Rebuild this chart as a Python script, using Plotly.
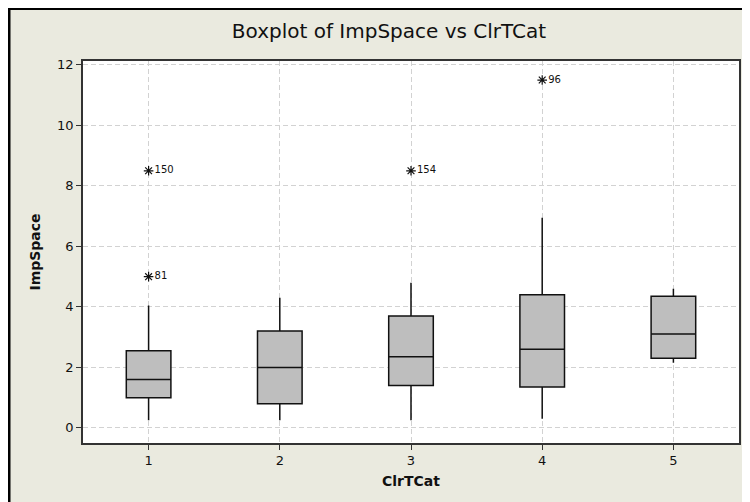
import plotly.graph_objects as go

# ---- data ----
categories = [1, 2, 3, 4, 5]
cat_labels = ["1", "2", "3", "4", "5"]
q1_vals = [1.0, 0.8, 1.4, 1.35, 2.3]
median_vals = [1.6, 2.0, 2.35, 2.6, 3.1]
q3_vals = [2.55, 3.2, 3.7, 4.4, 4.35]
low_whisker = [0.25, 0.25, 0.25, 0.3, 2.15]
high_whisker = [4.05, 4.3, 4.8, 6.95, 4.6]

outlier_x = [1, 1, 3, 4]
outlier_y = [8.5, 5.0, 8.5, 11.5]
outlier_labels = ["150", "81", "154", "96"]

y_ticks = [0, 2, 4, 6, 8, 10, 12]

# ---- layout geometry (page has an 8px body margin) ----
OFF = 8
W, H = 750 - OFF, 502 - OFF
ML, MR, MT, MB = 83 - OFF, 11, 61 - OFF, 59
PW, PH = W - ML - MR, H - MT - MB


def px(x):
    return (x - OFF - ML) / PW


def py(y):
    return (H - MB - (y - OFF)) / PH


fig = go.Figure()

fig.add_trace(go.Box(
    x=categories,
    q1=q1_vals,
    median=median_vals,
    q3=q3_vals,
    lowerfence=low_whisker,
    upperfence=high_whisker,
    width=0.34,
    whiskerwidth=0,
    fillcolor="#BEBEBE",
    line=dict(color="#111111", width=1.5),
    boxpoints=False,
    showlegend=False,
    hoverinfo="skip",
))

fig.add_trace(go.Scatter(
    x=outlier_x,
    y=outlier_y,
    mode="markers+text",
    text=outlier_labels,
    textposition="middle right",
    textfont=dict(family="DejaVu Sans", size=10, color="#111111"),
    marker=dict(symbol="asterisk-open", size=8, color="#111111",
                line=dict(color="#111111", width=1.2)),
    showlegend=False,
    hoverinfo="skip",
))

shapes = [
    # black frame lines (left and top)
    dict(type="rect", xref="paper", yref="paper", x0=px(8), x1=px(10.5),
         y0=py(520), y1=py(8), fillcolor="black", line=dict(width=0), layer="below"),
    dict(type="rect", xref="paper", yref="paper", x0=px(8), x1=px(760),
         y0=py(10), y1=py(8), fillcolor="black", line=dict(width=0), layer="below"),
]

fig.update_layout(
    width=W, height=H,
    autosize=False,
    margin=dict(l=ML, r=MR, t=MT, b=MB, autoexpand=False),
    paper_bgcolor="#EAEADF",
    plot_bgcolor="white",
    shapes=shapes,
    title=dict(text="Boxplot of ImpSpace vs ClrTCat",
               xref="paper", x=px(389), xanchor="center",
               yref="container", y=1 - (31 - OFF) / H, yanchor="middle",
               font=dict(family="DejaVu Sans", size=20, color="#111111")),
    font=dict(family="DejaVu Sans", color="#111111"),
    xaxis=dict(
        range=[0.5, 5.5],
        tickvals=categories,
        ticktext=cat_labels,
        ticks="outside", ticklen=5, tickcolor="#333333",
        tickfont=dict(size=13),
        showline=True, linecolor="#333333", linewidth=1.5, mirror=True,
        showgrid=True, gridcolor="#D2D2D2", griddash="5px,3px", gridwidth=1,
        zeroline=False, automargin=False,
        title=dict(text="<b>ClrTCat</b>", font=dict(size=14), standoff=9),
    ),
    yaxis=dict(
        range=[-0.5, 12.13],
        tickvals=y_ticks,
        ticks="outside", ticklen=5, tickcolor="#333333",
        tickfont=dict(size=13),
        showline=True, linecolor="#333333", linewidth=1.5, mirror=True,
        showgrid=True, gridcolor="#D2D2D2", griddash="5px,3px", gridwidth=1,
        zeroline=False, automargin=False,
        title=dict(text="<b>ImpSpace</b>", font=dict(size=14), standoff=13),
    ),
)

fig.write_html("out.html")
